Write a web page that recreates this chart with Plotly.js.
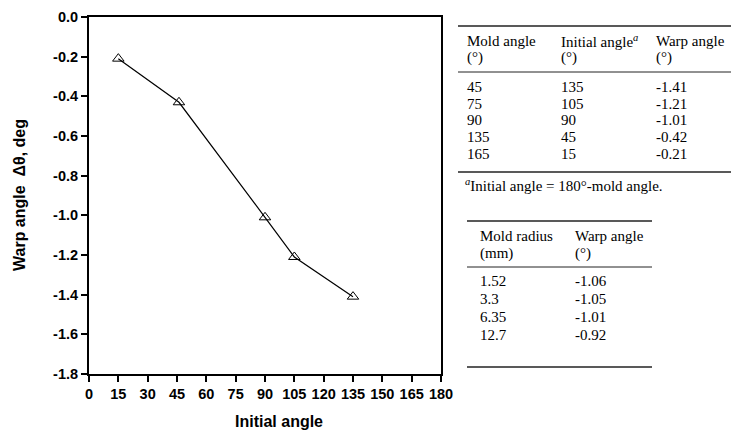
<!DOCTYPE html>
<html><head><meta charset="utf-8">
<script src="https://cdn.plot.ly/plotly-3.0.1.min.js"></script>
<style>body{margin:0;background:#fff}#c{width:731px;height:432px}</style>
</head><body><div id="c"></div>
<script>
// Chart data
const initialAngle = [15, 46, 90, 105, 135];
const warpAngle = [-0.21, -0.43, -1.01, -1.21, -1.41];
const xTicks = [0,15,30,45,60,75,90,105,120,135,150,165,180];
const yTicks = [0,-0.2,-0.4,-0.6,-0.8,-1.0,-1.2,-1.4,-1.6,-1.8];
const xTitle = "Initial angle";
const yTitle = "Warp angle  Δθ, deg";

// Table 1
const t1Mold = ["45","75","90","135","165"];
const t1Init = ["135","105","90","45","15"];
const t1Warp = ["-1.41","-1.21","-1.01","-0.42","-0.21"];
// Table 2
const t2Radius = ["1.52","3.3","6.35","12.7"];
const t2Warp = ["-1.06","-1.05","-1.01","-0.92"];

const L=89, R=441, T=17, B=374;
const px = v => (v - L)/(R - L);
const py = v => (B - v)/(B - T);
const serif = {family:"Liberation Serif, Times New Roman, serif", size:15, color:"#000"};
const ann = [], shp = [];
function txt(x, y, s){ ann.push({xref:"paper", yref:"paper", x:px(x), y:py(y), text:s, showarrow:false, xanchor:"left", yanchor:"middle", font:serif, align:"left", xshift:-2}); }
function hline(x0, x1, y, w){ shp.push({type:"line", xref:"paper", yref:"paper", x0:px(x0), x1:px(x1), y0:py(y), y1:py(y), line:{color:"#222", width:w||1}}); }

// Table 1
hline(458, 731, 26, 1.3);
txt(467, 41, "Mold angle"); txt(561, 41, "Initial angle<sup><i>a</i></sup>"); txt(656, 41, "Warp angle");
txt(467, 57, "(°)"); txt(561, 57, "(°)"); txt(656, 57, "(°)");
hline(458, 731, 72, 1);
const r1 = [87, 104, 120, 137, 154];
t1Mold.forEach((v,i)=>{ txt(467, r1[i], v); txt(561, r1[i], t1Init[i]); txt(656, r1[i], t1Warp[i]); });
hline(458, 731, 172, 1.3);
txt(465, 185, "<sup><i>a</i></sup>Initial angle = 180°-mold angle.");

// Table 2
hline(467, 652, 221, 1.3);
txt(480, 236, "Mold radius"); txt(575, 236, "Warp angle");
txt(480, 253, "(mm)"); txt(575, 253, "(°)");
hline(467, 652, 267, 1);
const r2 = [281, 299, 317, 335];
t2Radius.forEach((v,i)=>{ txt(480, r2[i], v); txt(575, r2[i], t2Warp[i]); });
hline(467, 652, 367, 1.3);

const bold = {family:"Liberation Sans, Arial, sans-serif", size:14.5, color:"#000", weight:"bold"};
const boldT = {family:"Liberation Sans, Arial, sans-serif", size:16, color:"#000", weight:"bold"};
// axis titles
ann.push({xref:"paper", yref:"paper", x:px(279), y:py(421), text:xTitle, showarrow:false, xanchor:"center", yanchor:"middle", font:boldT});
ann.push({xref:"paper", yref:"paper", x:px(19), y:py(195), text:yTitle, showarrow:false, xanchor:"center", yanchor:"middle", textangle:-90, font:boldT});

Plotly.newPlot("c", [{
  x: initialAngle, y: warpAngle, mode:"lines+markers", type:"scatter",
  line:{color:"#000", width:1.2},
  marker:{symbol:"triangle-up-open", size:10, color:"#000", line:{width:1}}
}], {
  width:731, height:432, margin:{l:L, r:731-R, t:T, b:432-B},
  paper_bgcolor:"#fff", plot_bgcolor:"#fff", showlegend:false,
  xaxis:{range:[0,180], tickvals:xTicks, ticktext:xTicks.map(String), showgrid:false, zeroline:false,
    showline:true, mirror:true, linecolor:"#000", linewidth:2, ticks:"outside", ticklen:6, tickwidth:2, tickcolor:"#000",
    tickfont:bold},
  yaxis:{range:[-1.8,0], tickvals:yTicks, ticktext:yTicks.map(v=>v.toFixed(1)), showgrid:false, zeroline:false,
    showline:true, mirror:true, linecolor:"#000", linewidth:2, ticks:"outside", ticklen:6, tickwidth:2, tickcolor:"#000",
    tickfont:bold},
  annotations: ann, shapes: shp
}, {staticPlot:true});
</script></body></html>
